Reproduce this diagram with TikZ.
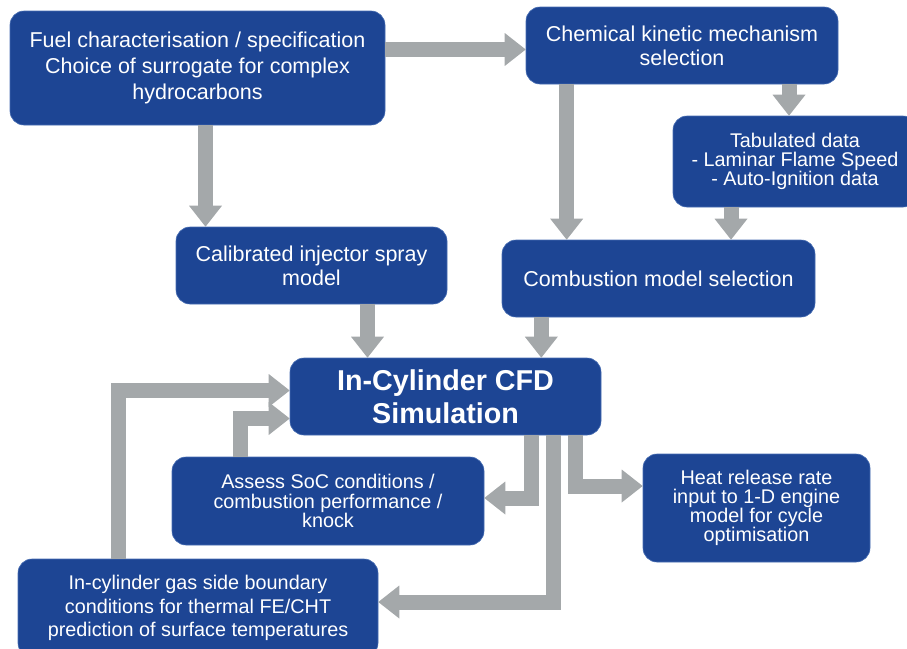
\documentclass[tikz,border=0pt]{standalone}
\usepackage{fontspec}
\setmainfont{Liberation Sans}
\usetikzlibrary{arrows.meta}
\definecolor{boxblue}{RGB}{29,69,148}
\definecolor{boxedge}{RGB}{70,108,178}
\definecolor{flowgrey}{RGB}{164,168,170}
\def\bigfont{\fontsize{21.5}{24}\selectfont}
\def\smallfont{\fontsize{19.8}{19.2}\selectfont}
\tikzset{
  box/.style={rectangle, rounded corners=14pt, fill=boxblue, draw=boxedge, line width=0.6pt, text=white, align=center, inner sep=0pt},
  flow/.style={draw=flowgrey, line width=15pt, line join=miter, -{Triangle[width=33pt,length=21pt,line width=0pt]}}
}

\begin{document}
\begin{tikzpicture}[x=1pt, y=-1pt]
			%%%%% START %%%%%
			\useasboundingbox (0,0) rectangle (907,648);
			
			\node[box, minimum width=375pt, minimum height=114pt, font=\fontsize{21.5}{26}\selectfont] (fuel) at (197.5, 68) {Fuel characterisation / specification\\Choice of surrogate for complex\\hydrocarbons};
			\node[box, minimum width=312pt, minimum height=77pt, font=\bigfont] (chem) at (682, 45.5) {Chemical kinetic mechanism\\selection};
			\node[box, minimum width=244pt, minimum height=91pt, font=\smallfont] (tab) at (795, 161.5) {Tabulated data\\- Laminar Flame Speed\\- Auto-Ignition data};
			\node[box, minimum width=271pt, minimum height=77pt, font=\bigfont] (calib) at (311.5, 265.5) {Calibrated injector spray\\model};
			\node[box, minimum width=313pt, minimum height=77pt, font=\bigfont] (comb) at (658.5, 278.5) {Combustion model selection};
			\node[box, minimum width=311pt, minimum height=77pt, font=\fontsize{28.7}{33}\selectfont\bfseries] (cfd) at (445.5, 396.5) {In-Cylinder CFD\\Simulation};
			\node[box, minimum width=312pt, minimum height=88pt, font=\smallfont] (assess) at (328, 501) {Assess SoC conditions /\\combustion performance /\\knock};
			\node[box, minimum width=227pt, minimum height=108pt, font=\smallfont] (heat) at (756.5, 508) {Heat release rate\\input to 1-D engine\\model for cycle\\optimisation};
			\node[box, minimum width=360pt, minimum height=98pt, font=\fontsize{19.8}{23.5}\selectfont] (gas) at (198, 608) {In-cylinder gas side boundary\\conditions for thermal FE/CHT\\prediction of surface temperatures};
			
			% feed arrows into the simulation
			\draw[flow] ([xshift=8pt]fuel.south) -- ([xshift=8pt]fuel.south |- calib.north);
			\draw[flow] ([yshift=-4pt]chem.west -| fuel.east) -- ([yshift=-4pt]chem.west);
			\draw[flow] ([xshift=65pt]comb.north west |- chem.south) -- ([xshift=65pt]comb.north west);
			\draw[flow] ([xshift=-6pt]tab.north |- chem.south) -- ([xshift=-6pt]tab.north);
			\draw[flow] ([xshift=-64pt]tab.south) -- ([xshift=-64pt]tab.south |- comb.north);
			\draw[flow] ([xshift=56pt]calib.south) -- ([xshift=56pt]calib.south |- cfd.north);
			\draw[flow] ([xshift=-60pt]cfd.north east |- comb.south) -- ([xshift=-60pt]cfd.north east);
			
			% loops back
			\coordinate (gasin) at ([yshift=6pt]cfd.west);
			\coordinate (socin) at ([yshift=-22pt]cfd.west);
			\draw[flow] ([xshift=-80pt]gas.north) |- (gasin);
			\draw[flow] ([xshift=-88pt]assess.north) |- (socin);
			
			% outputs
			\draw[flow] ([xshift=86pt]cfd.south) |- ([yshift=3pt]assess.east);
			\draw[flow] ([xshift=108pt]cfd.south) |- ([yshift=6pt]gas.east);
			\draw[flow] ([xshift=130pt]cfd.south) |- ([yshift=22pt]heat.west);
			
			%%%%% END %%%%%
\end{tikzpicture}
\end{document}
